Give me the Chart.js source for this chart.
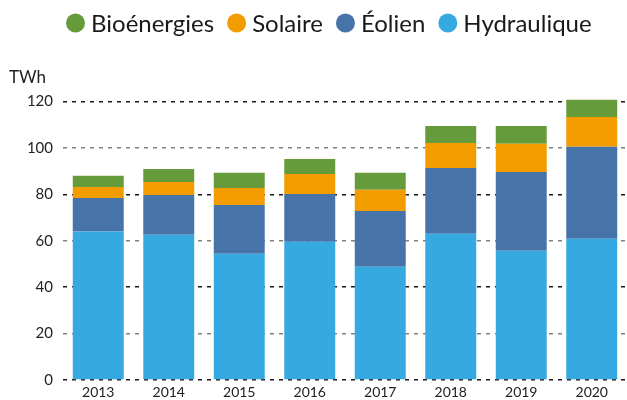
<!DOCTYPE html>
<html>
<head>
<meta charset="utf-8">
<script src="https://cdn.jsdelivr.net/npm/chart.js@4"></script>
<style>
  html, body { margin: 0; padding: 0; background: #fff; }
  #wrap { width: 627px; height: 400px; }
</style>
</head>
<body>
<div id="wrap"><canvas id="chart" width="627" height="400"></canvas></div>
<script>
// Data (TWh)
const years = ['2013', '2014', '2015', '2016', '2017', '2018', '2019', '2020'];
const hydraulique = [64, 62.6, 54.4, 59.6, 48.8, 63, 55.7, 60.9];
const eolien = [14.5, 17.2, 21, 20.6, 24.1, 28.4, 34, 39.6];
const solaire = [4.7, 5.6, 7.4, 8.6, 9.1, 10.8, 12.1, 12.9];
const bioenergies = [4.8, 5.6, 6.5, 6.5, 7.3, 7.3, 7.7, 7.4];
const yTicks = [0, 20, 40, 60, 80, 100, 120];

const FONT = 'Lato, "Noto Sans", sans-serif';

// legend drawn from the datasets (reverse order), on top
const topLegend = {
    id: 'topLegend',
    afterDraw(chart) {
        const ctx = chart.ctx;
        const items = chart.data.datasets.slice().reverse();
        const r = 9.5, gapText = 6, gapItem = 13, cy = 23;
        ctx.save();
        ctx.font = '24px ' + FONT;
        const widths = items.map(d => 2 * r + gapText + ctx.measureText(d.label).width);
        let x = 66;
        items.forEach((d, i) => {
            ctx.fillStyle = d.backgroundColor;
            ctx.beginPath();
            ctx.arc(x + r, cy, r, 0, Math.PI * 2);
            ctx.fill();
            ctx.fillStyle = '#1a1a1a';
            ctx.textAlign = 'left';
            ctx.textBaseline = 'middle';
            ctx.fillText(d.label, x + 2 * r + gapText, cy + 1);
            x += widths[i] + gapItem;
        });
        ctx.restore();
    }
};

// unit label above the y axis
const unitLabel = {
    id: 'unitLabel',
    afterDraw(chart) {
        const ctx = chart.ctx;
        ctx.save();
        ctx.font = '17px ' + FONT;
        ctx.fillStyle = '#222';
        ctx.textAlign = 'left';
        ctx.textBaseline = 'middle';
        ctx.fillText('TWh', 9, 78);
        ctx.restore();
    }
};

const ctx = document.getElementById('chart').getContext('2d');

new Chart(ctx, {
    type: 'bar',
    data: {
        labels: years,
        datasets: [
            { label: 'Hydraulique', data: hydraulique, backgroundColor: '#36A9E0' },
            { label: 'Éolien', data: eolien, backgroundColor: '#4674A8' },
            { label: 'Solaire', data: solaire, backgroundColor: '#F39C00' },
            { label: 'Bioénergies', data: bioenergies, backgroundColor: '#659B3A' }
        ]
    },
    options: {
        responsive: false,
        animation: false,
        layout: { padding: { top: 97, right: 0, bottom: 0, left: 0 } },
        datasets: {
            bar: {
                categoryPercentage: 1,
                barPercentage: 0.723,
                borderWidth: 0,
                clip: false
            }
        },
        plugins: {
            legend: { display: false },
            tooltip: { enabled: false }
        },
        scales: {
            x: {
                stacked: true,
                grid: { display: false, drawTicks: false },
                border: { display: false },
                afterFit(scale) {
                    scale.height = 20;
                },
                ticks: {
                    color: '#222',
                    padding: 4,
                    font: { family: FONT, size: 14 }
                }
            },
            y: {
                stacked: true,
                min: 0,
                max: 122,
                afterBuildTicks(scale) {
                    scale.ticks = yTicks.map(v => ({ value: v }));
                },
                afterFit(scale) {
                    scale.width = 63;
                },
                border: { display: false, dash: [4, 5] },
                grid: {
                    drawTicks: false,
                    lineWidth: 1.5,
                    color: c => (c.tick && c.tick.value % 40 === 0) ? '#1a1a1a' : '#808080'
                },
                ticks: {
                    color: '#222',
                    padding: 10,
                    font: { family: FONT, size: 15 }
                }
            }
        }
    },
    plugins: [topLegend, unitLabel]
});
</script>
</body>
</html>
